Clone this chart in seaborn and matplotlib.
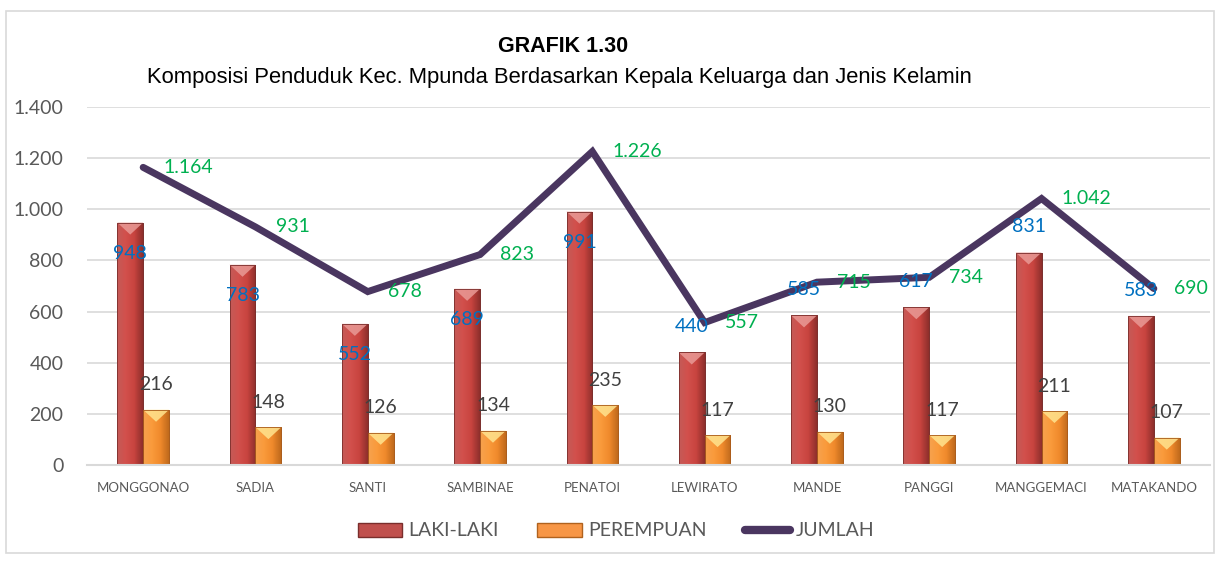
import numpy as np
import pandas as pd
import matplotlib
matplotlib.use("Agg")
import matplotlib.pyplot as plt
from matplotlib.patches import Rectangle, Polygon
from matplotlib.lines import Line2D
from matplotlib.colors import LinearSegmentedColormap
import seaborn as sns

desa = ["MONGGONAO", "SADIA", "SANTI", "SAMBINAE", "PENATOI", "LEWIRATO",
        "MANDE", "PANGGI", "MANGGEMACI", "MATAKANDO"]
laki = [948, 783, 552, 689, 991, 440, 585, 617, 831, 583]
perempuan = [216, 148, 126, 134, 235, 117, 130, 117, 211, 107]
jumlah = [1164, 931, 678, 823, 1226, 557, 715, 734, 1042, 690]
y_ticks = [0, 200, 400, 600, 800, 1000, 1200, 1400]

# label placement for the LAKI-LAKI values (as Excel placed them)
laki_label_place = ["inside"] * 5 + ["above"] * 5

RED = "#C0504D"
ORANGE = "#F79646"
PURPLE = "#4A3660"
BLUE = "#0070C0"
GREEN = "#00B050"
DARK = "#404040"

def fmt(v):
    return f"{v:,}".replace(",", ".")

sns.set_theme(style="white")
plt.rcParams["font.family"] = ["Lato", "DejaVu Sans"]

df = pd.DataFrame({
    "desa": desa * 2,
    "nilai": laki + perempuan,
    "jenis": ["LAKI-LAKI"] * len(desa) + ["PEREMPUAN"] * len(desa),
})

fig = plt.figure(figsize=(12.21, 5.61), dpi=100)
ax = fig.add_axes([87 / 1221, 1 - 465 / 561, (1210 - 87) / 1221, (465 - 107) / 561])

sns.barplot(data=df, x="desa", y="nilai", hue="jenis", order=desa,
            palette={"LAKI-LAKI": RED, "PEREMPUAN": ORANGE},
            width=0.46, ax=ax, legend=False, edgecolor="#7a2e2c", linewidth=0.6,
            saturation=1)

red_cmap = LinearSegmentedColormap.from_list(
    "r", ["#C45A57", "#D2504C", "#C8443F", "#8E2F2C"])
org_cmap = LinearSegmentedColormap.from_list(
    "o", ["#F6A24E", "#FA9B3C", "#F08A2C", "#C06A1C"])
grad = np.linspace(0, 1, 64).reshape(1, -1)

ax.set_xlim(-0.5, len(desa) - 0.5)
ax.set_ylim(0, 1400)
px_per_unit_y = (465 - 107) / 1400.0

for i, p in enumerate(list(ax.patches)):
    is_red = i < len(desa)
    cmap = red_cmap if is_red else org_cmap
    x0, y0 = p.get_x(), p.get_y()
    w, h = p.get_width(), p.get_height()
    p.set_edgecolor("#7a2e2c" if is_red else "#b0621e")
    im = ax.imshow(grad, cmap=cmap, extent=(x0, x0 + w, y0, y0 + h),
                   aspect="auto", zorder=p.get_zorder() + 0.1, origin="lower")
    im.set_clip_path(p)
    cap_h = 12 / px_per_unit_y
    cap_col = "#E99A96" if is_red else "#FFE48F"
    ax.add_patch(Polygon([(x0, y0 + h), (x0 + w, y0 + h), (x0 + w / 2, y0 + h - cap_h)],
                         closed=True, facecolor=cap_col, edgecolor="none",
                         alpha=0.85, zorder=p.get_zorder() + 0.2))
    ax.add_patch(Rectangle((x0, y0), w, h, fill=False,
                           edgecolor="#7a2e2c" if is_red else "#a85a1a",
                           linewidth=0.6, zorder=p.get_zorder() + 0.3))

x = np.arange(len(desa))
sns.lineplot(x=x, y=jumlah, ax=ax, color=PURPLE, linewidth=5, sort=False,
             solid_capstyle="round", solid_joinstyle="miter", zorder=5)

bw = 0.23
for i in range(len(desa)):
    off = -120 if laki_label_place[i] == "inside" else 100
    ax.text(x[i] - bw / 2, laki[i] + off, fmt(laki[i]), color=BLUE,
            fontsize=14, ha="center", va="center", zorder=6)
    ax.text(x[i] + bw / 2, perempuan[i] + 97, fmt(perempuan[i]), color=DARK,
            fontsize=14, ha="center", va="center", zorder=6)
    ax.text(x[i] + 0.18, jumlah[i], fmt(jumlah[i]), color=GREEN,
            fontsize=14, ha="left", va="center", zorder=6, clip_on=False)

ax.set_xlim(-0.5, len(desa) - 0.5)
ax.set_ylim(0, 1400)
ax.set_yticks(y_ticks)
ax.set_yticklabels([fmt(v) for v in y_ticks], fontsize=14, color="#595959")
ax.tick_params(axis="y", pad=17, length=0)
ax.tick_params(axis="x", pad=12, length=0)
ax.set_xticks(x)
ax.set_xticklabels(desa, fontsize=9.5, color="#595959")
ax.set_xlabel("")
ax.set_ylabel("")
ax.grid(axis="y", color="#d9d9d9", linewidth=1.2)
ax.set_axisbelow(True)
for s in ["top", "right", "left"]:
    ax.spines[s].set_visible(False)
ax.spines["bottom"].set_color("#d9d9d9")
ax.spines["bottom"].set_linewidth(1.5)

fig.text(563 / 1221, 1 - 47 / 561, "GRAFIK 1.30", fontsize=15.5, fontweight="bold",
         ha="center", va="center", family="Liberation Sans", color="black")
fig.text(559 / 1221, 1 - 78 / 561,
         "Komposisi Penduduk Kec. Mpunda Berdasarkan Kepala Keluarga dan Jenis Kelamin",
         fontsize=15.8, ha="center", va="center", family="Liberation Sans", color="black")

handles = [Rectangle((0, 0), 1, 1, facecolor=RED, edgecolor="#7a2e2c"),
           Rectangle((0, 0), 1, 1, facecolor=ORANGE, edgecolor="#b0621e"),
           Line2D([0], [0], color=PURPLE, linewidth=6, solid_capstyle="round")]
fig.legend(handles, ["LAKI-LAKI", "PEREMPUAN", "JUMLAH"], loc="center",
           bbox_to_anchor=(616 / 1221, 1 - 531 / 561), ncol=3, frameon=False,
           fontsize=14, handlelength=2.3, handleheight=0.7, columnspacing=2.0,
           handletextpad=0.3, labelcolor="#595959")

fig.add_artist(Rectangle((6 / 1221, 1 - 553 / 561), 1208 / 1221, 542 / 561,
                         transform=fig.transFigure, fill=False,
                         edgecolor="#d9d9d9", linewidth=1.2))

fig.savefig("out.png", dpi=100)
